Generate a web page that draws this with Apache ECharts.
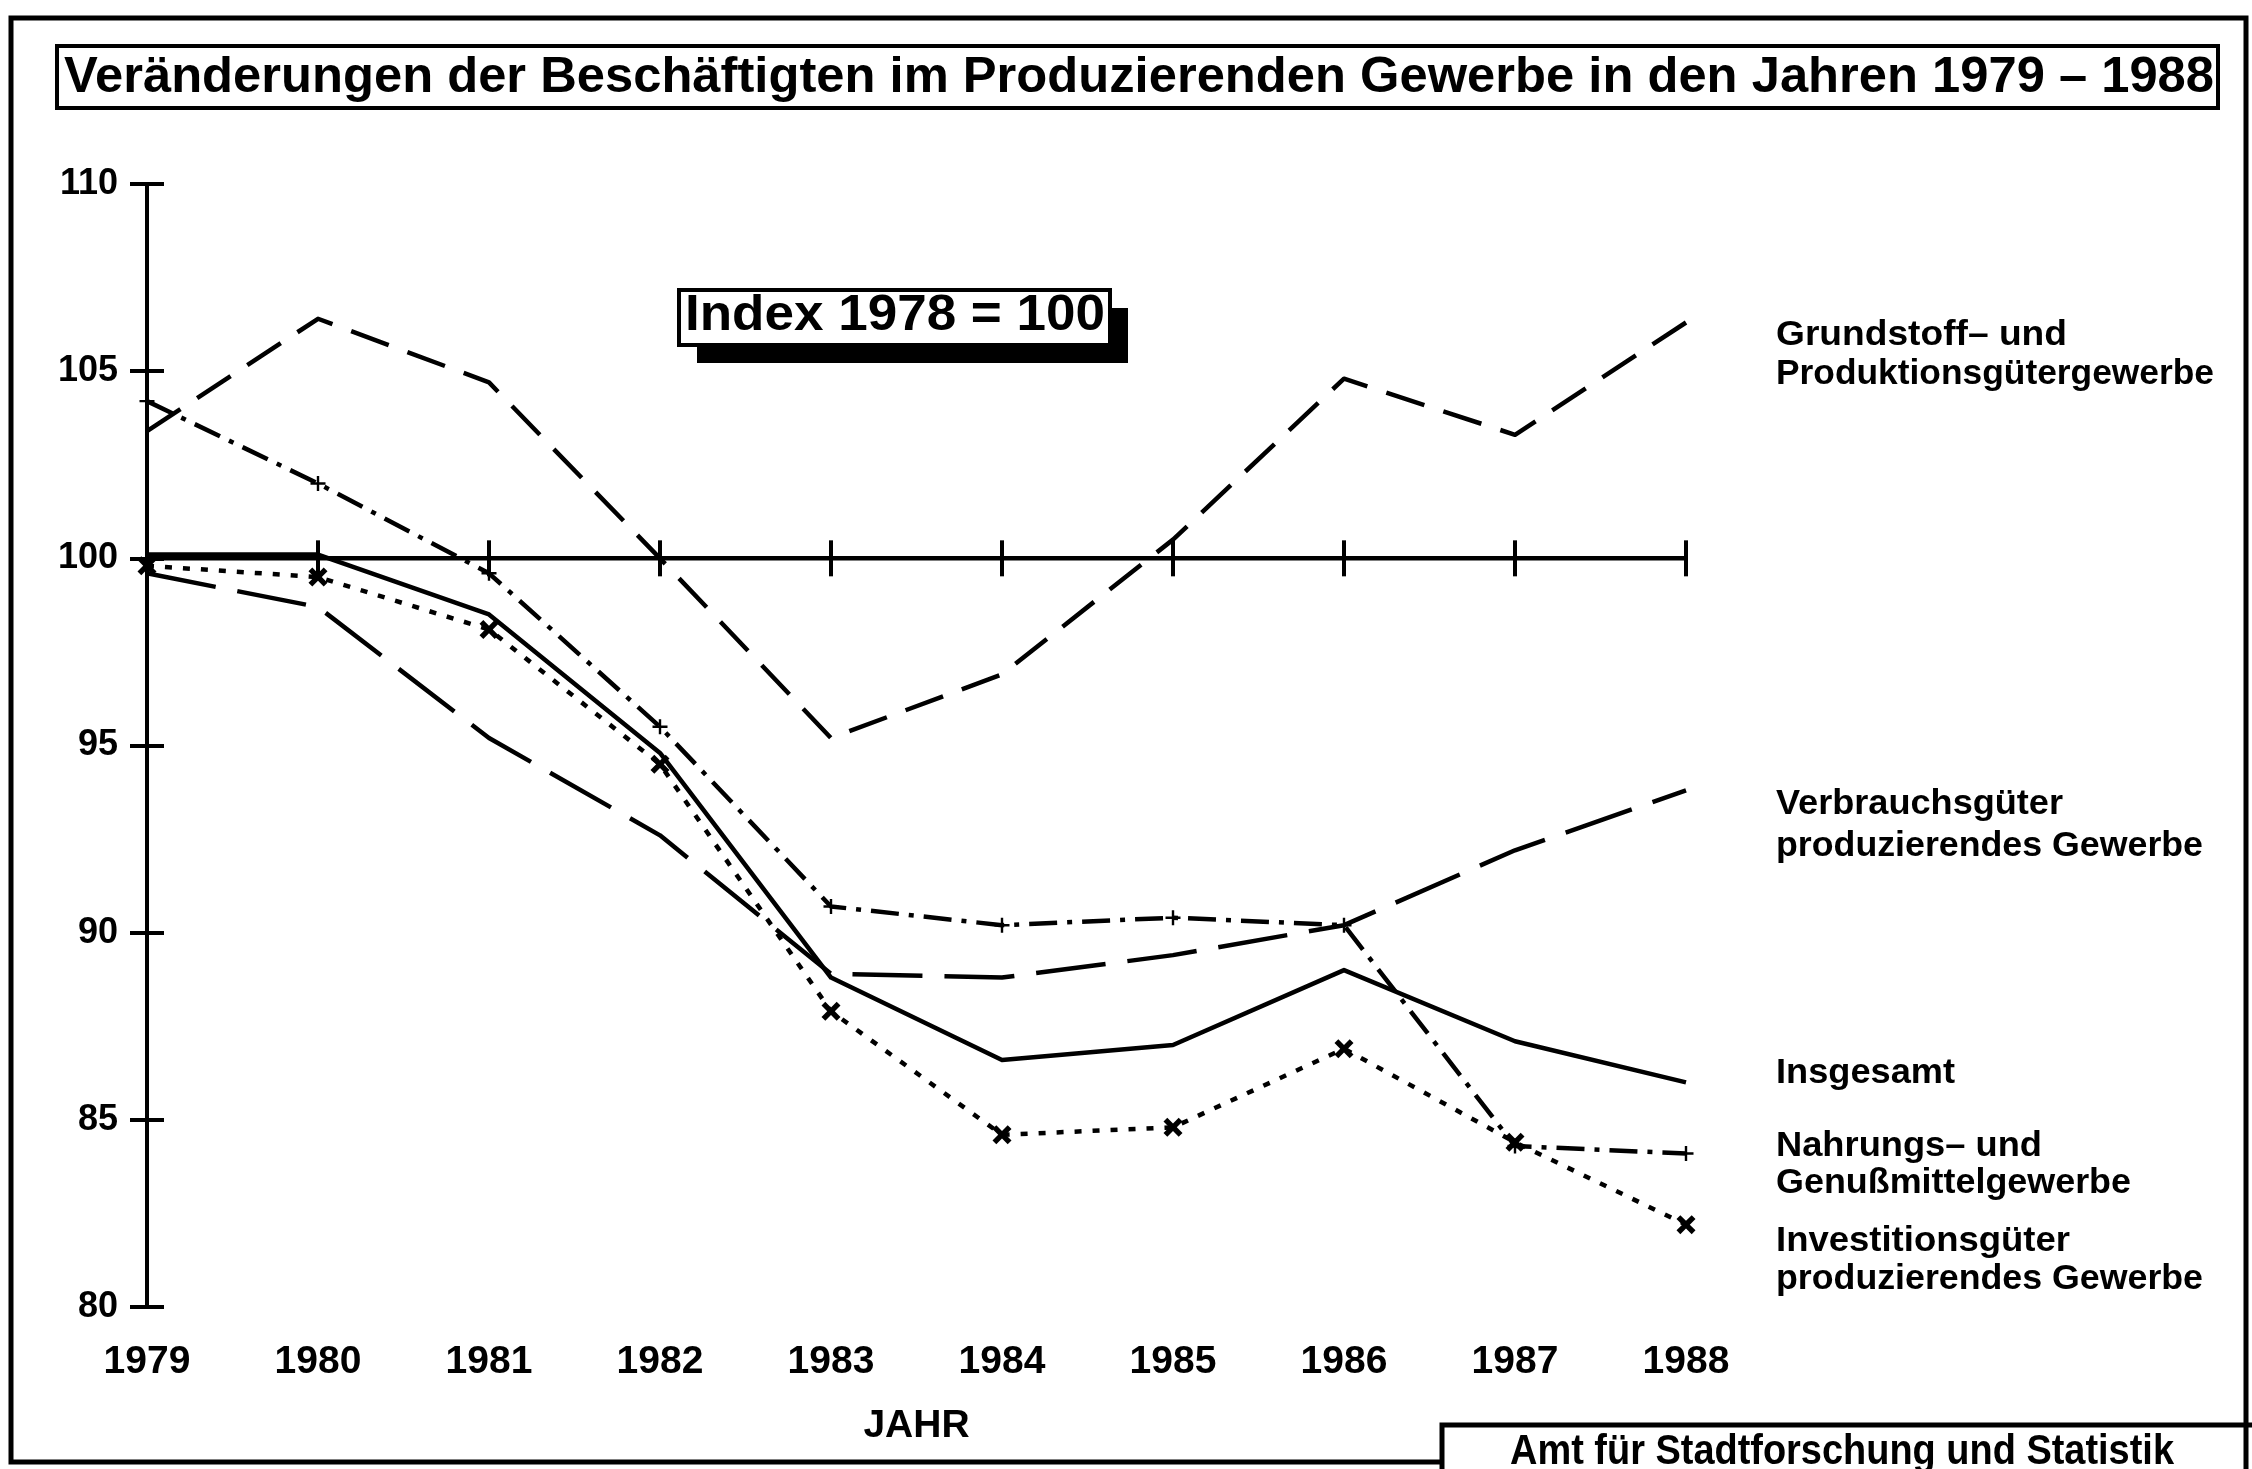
<!DOCTYPE html>
<html>
<head>
<meta charset="utf-8">
<title>Beschäftigte im Produzierenden Gewerbe 1979 - 1988</title>
<script src="https://cdn.jsdelivr.net/npm/echarts@6.0.0/dist/echarts.min.js"></script>
<style>
  html, body { margin: 0; padding: 0; background: #fff; }
  #main { width: 2252px; height: 1469px; }
</style>
</head>
<body>
<div id="main"></div>
<script>
// Jahre und Indexwerte (1978 = 100)
var jahre = ['1979', '1980', '1981', '1982', '1983', '1984', '1985', '1986', '1987', '1988'];
var grundstoff  = [103.4, 106.4, 104.7, 100.0, 95.2, 96.9, 100.5, 104.8, 103.3, 106.3];
var verbrauch   = [99.6, 98.7, 95.2, 92.6, 88.9, 88.8, 89.4, 90.2, 92.2, 93.8];
var insgesamt   = [100.1, 100.1, 98.5, 94.8, 88.8, 86.6, 87.0, 89.0, 87.1, 86.0];
var nahrung     = [104.2, 102.0, 99.6, 95.5, 90.7, 90.2, 90.4, 90.2, 84.3, 84.1];
var investition = [99.8, 99.5, 98.1, 94.5, 87.9, 84.6, 84.8, 86.9, 84.4, 82.2];
var basis       = [100, 100, 100, 100, 100, 100, 100, 100, 100, 100];
var yMin = 80, yMax = 110, yStep = 5;

var FONT = '"Liberation Sans", Arial, sans-serif';
var chart = echarts.init(document.getElementById('main'));

// Text messen, damit er so breit wird wie im Original
var ctx = document.createElement('canvas').getContext('2d');
function textEl(text, x, y, size, weight, width, align) {
    var font = weight + ' ' + size + 'px ' + FONT;
    ctx.font = font;
    var s = width ? width / ctx.measureText(text).width : 1;
    return {
        type: 'text', x: x, y: y, scaleX: s, z: 100,
        style: { text: text, font: font, fill: '#000', align: align || 'left', verticalAlign: 'middle' }
    };
}

var kreuz = 'path://M0,2 L2,0 L5,3 L8,0 L10,2 L7,5 L10,8 L8,10 L5,7 L2,10 L0,8 L3,5 Z';
var plus = 'path://M4.2,0 H5.8 V4.2 H10 V5.8 H5.8 V10 H4.2 V5.8 H0 V4.2 H4.2 Z';

function linie(name, data, dash, symbol, size) {
    return {
        name: name, type: 'line', data: data, z: 3,
        symbol: symbol || 'none', symbolSize: size || 0, showSymbol: !!symbol,
        itemStyle: { color: '#000' },
        lineStyle: { color: '#000', width: 4.5, type: dash, cap: 'butt', join: 'round' }
    };
}

var option = {
    animation: false,
    backgroundColor: '#fff',
    grid: { left: 147, right: 566, top: 184, bottom: 162, outerBoundsMode: 'none' },
    xAxis: {
        type: 'category', data: jahre, boundaryGap: false,
        axisLine: { show: false }, axisTick: { show: false }, splitLine: { show: false },
        axisLabel: { interval: 0, margin: 36, color: '#000', fontFamily: FONT, fontWeight: 'bold', fontSize: 39 },
        name: 'JAHR', nameLocation: 'middle', nameGap: 100,
        nameTextStyle: { color: '#000', fontFamily: FONT, fontWeight: 'bold', fontSize: 39 }
    },
    yAxis: [{
        type: 'value', min: yMin, max: yMax, interval: yStep, position: 'left',
        axisLine: { show: true, lineStyle: { color: '#000', width: 4 } },
        axisTick: { show: true, length: 17, lineStyle: { color: '#000', width: 4 } },
        splitLine: { show: false },
        axisLabel: { margin: 29, color: '#000', fontFamily: FONT, fontWeight: 'bold', fontSize: 36 }
    }, {
        type: 'value', min: yMin, max: yMax, interval: yStep, position: 'left',
        axisLine: { show: false },
        axisTick: { show: true, inside: true, length: 17, lineStyle: { color: '#000', width: 4 } },
        splitLine: { show: false }, axisLabel: { show: false }
    }],
    series: [
        {
            name: 'Basis', type: 'line', data: basis, z: 2, silent: true,
            symbol: 'rect', symbolSize: [4, 36], showAllSymbol: true,
            itemStyle: { color: '#000' },
            lineStyle: { color: '#000', width: 4.5 }
        },
        linie('Grundstoff- und Produktionsgütergewerbe', grundstoff, [40, 20]),
        linie('Verbrauchsgüter produzierendes Gewerbe', verbrauch, [70, 22]),
        linie('Insgesamt', insgesamt, 'solid'),
        linie('Nahrungs- und Genußmittelgewerbe', nahrung, [28, 10, 5, 10], plus, 15),
        linie('Investitionsgüter produzierendes Gewerbe', investition, [7, 11], kreuz, 19)
    ],
    graphic: [
        // Rahmen
        { type: 'polyline', z: 90, shape: { points: [[1442, 1462], [11, 1462], [11, 18], [2246, 18], [2246, 1469]] },
          style: { stroke: '#000', lineWidth: 5, fill: null } },
        { type: 'rect', z: 90, shape: { x: 1442, y: 1425, width: 820, height: 80 },
          style: { stroke: '#000', lineWidth: 5, fill: null } },
        // Titelkasten
        { type: 'rect', z: 90, shape: { x: 57, y: 46, width: 2161, height: 62 },
          style: { stroke: '#000', lineWidth: 4, fill: '#fff' } },
        textEl('Veränderungen der Beschäftigten im Produzierenden Gewerbe in den Jahren 1979 – 1988', 64, 78, 50, 'bold', 2150),
        // Index-Kasten mit Schatten
        { type: 'rect', z: 90, shape: { x: 697, y: 308, width: 431, height: 55 }, style: { fill: '#000' } },
        { type: 'rect', z: 91, shape: { x: 679, y: 290, width: 431, height: 55 },
          style: { stroke: '#000', lineWidth: 4, fill: '#fff' } },
        textEl('Index 1978 = 100', 685, 316, 50, 'bold', 420),
        // Beschriftungen rechts
        textEl('Grundstoff– und', 1776, 335, 35, 'bold', 291),
        textEl('Produktionsgütergewerbe', 1776, 374, 35, 'bold', 438),
        textEl('Verbrauchsgüter', 1776, 804, 35, 'bold', 287),
        textEl('produzierendes Gewerbe', 1776, 846, 35, 'bold', 427),
        textEl('Insgesamt', 1776, 1073, 35, 'bold', 179),
        textEl('Nahrungs– und', 1776, 1146, 35, 'bold', 266),
        textEl('Genußmittelgewerbe', 1776, 1183, 35, 'bold', 355),
        textEl('Investitionsgüter', 1776, 1241, 35, 'bold', 294),
        textEl('produzierendes Gewerbe', 1776, 1279, 35, 'bold', 427),
        // Quelle
        textEl('Amt für Stadtforschung und Statistik', 1842, 1452, 42, 'bold', 664, 'center')
    ]
};
chart.setOption(option);
</script>
</body>
</html>
